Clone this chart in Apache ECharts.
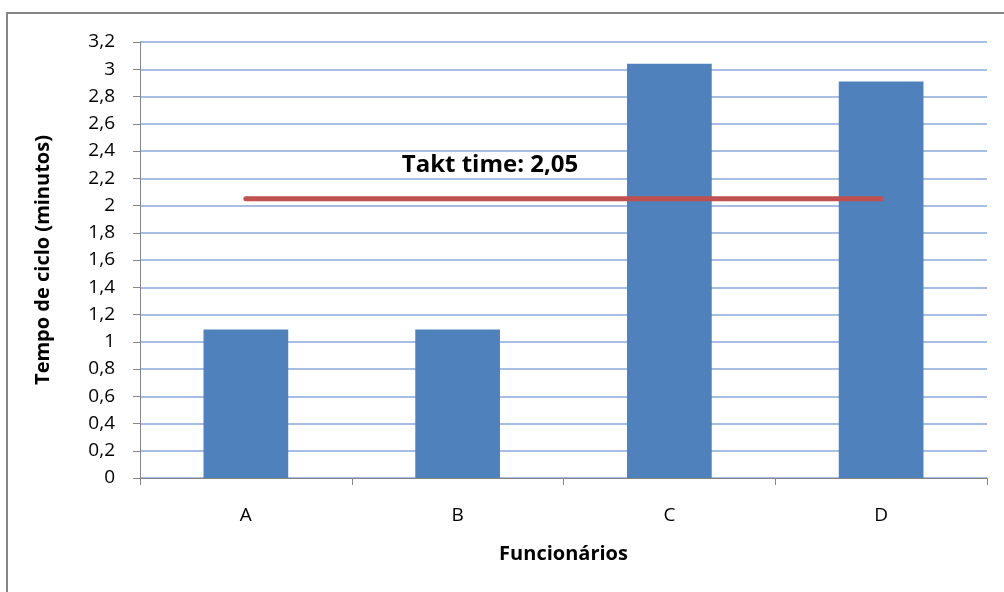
<!DOCTYPE html>
<html>
<head>
<meta charset="utf-8">
<script src="https://cdn.jsdelivr.net/npm/echarts@6/dist/echarts.min.js"></script>
<style>
html,body{margin:0;padding:0;background:#fff;}
#chart{width:1004px;height:592px;}
</style>
</head>
<body>
<div id="chart"></div>
<script>
const categories = ['A', 'B', 'C', 'D'];
const cycleTimes = [1.09, 1.09, 3.04, 2.91];
const taktTime = [2.05, 2.05, 2.05, 2.05];
const taktLabel = 'Takt time: 2,05';
const xAxisTitle = 'Funcionários';
const yAxisTitle = 'Tempo de ciclo (minutos)';

const chart = echarts.init(document.getElementById('chart'), null, {renderer: 'canvas'});
const fontFamily = '"Open Sans", Lato, sans-serif';

chart.setOption({
  animation: false,
  backgroundColor: '#ffffff',
  grid: {left: 140, right: 17, top: 42, bottom: 114, containLabel: false},
  graphic: [
    {
      type: 'rect',
      shape: {x: 7, y: 13, width: 1200, height: 800},
      style: {fill: 'none', stroke: '#868686', lineWidth: 2},
      silent: true,
      z: -1
    },
    {
      type: 'text',
      x: 490, y: 165,
      style: {
        text: taktLabel,
        font: 'bold 24px ' + fontFamily,
        fill: '#000',
        textAlign: 'center',
        textVerticalAlign: 'middle'
      },
      z: 10
    }
  ],
  xAxis: {
    type: 'category',
    data: categories,
    boundaryGap: true,
    name: xAxisTitle,
    nameLocation: 'middle',
    nameGap: 66,
    nameTextStyle: {fontFamily: fontFamily, fontSize: 20, fontWeight: 'bold', color: '#000'},
    axisLine: {lineStyle: {color: '#868686', width: 1}},
    axisTick: {show: true, length: 7, lineStyle: {color: '#868686'}},
    axisLabel: {fontFamily: fontFamily, fontSize: 19, color: '#000', margin: 28},
    splitLine: {show: false}
  },
  yAxis: {
    type: 'value',
    min: 0,
    max: 3.2,
    interval: 0.2,
    name: yAxisTitle,
    nameLocation: 'middle',
    nameGap: 87,
    nameRotate: 90,
    nameTextStyle: {fontFamily: fontFamily, fontSize: 20, fontWeight: 'bold', color: '#000'},
    axisLine: {show: true, lineStyle: {color: '#868686', width: 1}},
    axisTick: {show: true, length: 7, lineStyle: {color: '#868686'}},
    axisLabel: {
      fontFamily: fontFamily, fontSize: 19, color: '#000', margin: 25,
      formatter: v => String(Number(v.toFixed(1))).replace('.', ',')
    },
    splitLine: {show: true, lineStyle: {color: '#A7BDE3', width: 2}}
  },
  series: [
    {
      name: 'Tempo de ciclo',
      type: 'bar',
      data: cycleTimes,
      barWidth: '40%',
      itemStyle: {color: '#4F81BD'},
      z: 2
    },
    {
      name: 'Takt time',
      type: 'line',
      data: taktTime,
      symbol: 'none',
      lineStyle: {color: '#C0504D', width: 5, cap: 'round'},
      z: 3
    }
  ]
});
</script>
</body>
</html>
